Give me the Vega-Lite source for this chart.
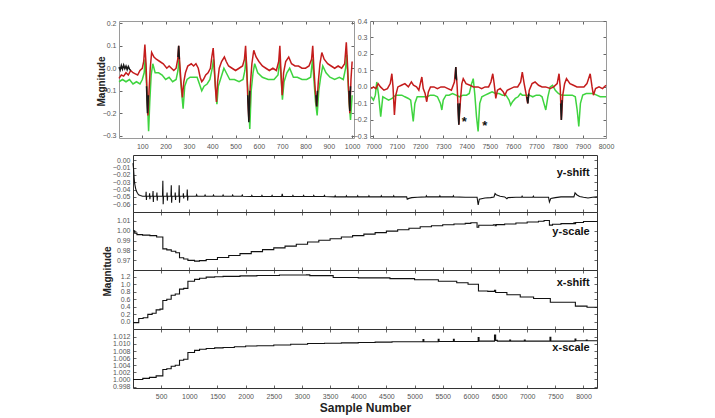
{
"$schema":"https://vega.github.io/schema/vega-lite/v6.json",
"autosize":{"type":"none"},
"padding":{"left":119,"top":21,"right":596,"bottom":397},
"background":"white",
"config":{"font":"Liberation Sans","view":{"stroke":null},
"axis":{"domain":true,"domainColor":"#333","domainWidth":1,"grid":false,"ticks":true,"tickSize":-3,"tickColor":"#666","labelFont":"Liberation Sans","labelFontSize":7,"labelColor":"#555","labelPadding":6,"labelFlush":false,"labelOverlap":false,"labelBound":false,"titleFont":"Liberation Sans","titleFontWeight":"bold","titleColor":"#222","titleFontSize":10},
"axisX":{"labelPadding":7}},
"datasets":{
"tl":[
{"s":"g","q":0,"x":0,"y":-0.06},{"s":"g","q":0,"x":15,"y":-0.05},{"s":"g","q":0,"x":30,"y":-0.06},{"s":"g","q":0,"x":45,"y":-0.05},{"s":"g","q":0,"x":60,"y":-0.07},{"s":"g","q":0,"x":75,"y":-0.06},{"s":"g","q":0,"x":90,"y":-0.07},{"s":"g","q":0,"x":100,"y":-0.05},{"s":"g","q":0,"x":108,"y":-0.02},{"s":"g","q":0,"x":112,"y":0.04},{"s":"g","q":0,"x":117,"y":-0.05},{"s":"g","q":0,"x":122,"y":-0.15},{"s":"g","q":0,"x":127,"y":-0.28},{"s":"g","q":0,"x":132,"y":-0.15},{"s":"g","q":0,"x":138,"y":-0.03},{"s":"g","q":0,"x":145,"y":0.02},{"s":"g","q":0,"x":155,"y":-0.02},{"s":"g","q":0,"x":170,"y":-0.02},{"s":"g","q":0,"x":185,"y":-0.03},{"s":"g","q":0,"x":200,"y":-0.05},{"s":"g","q":0,"x":215,"y":-0.04},{"s":"g","q":0,"x":230,"y":-0.06},{"s":"g","q":0,"x":245,"y":-0.05},{"s":"g","q":0,"x":253,"y":-0.01},{"s":"g","q":0,"x":258,"y":0.05},{"s":"g","q":0,"x":262,"y":-0.03},{"s":"g","q":0,"x":268,"y":-0.1},{"s":"g","q":0,"x":275,"y":-0.18},{"s":"g","q":0,"x":282,"y":-0.08},{"s":"g","q":0,"x":292,"y":-0.05},{"s":"g","q":0,"x":305,"y":-0.04},{"s":"g","q":0,"x":320,"y":-0.04},{"s":"g","q":0,"x":335,"y":-0.04},{"s":"g","q":0,"x":345,"y":-0.07},{"s":"g","q":0,"x":355,"y":-0.1},{"s":"g","q":0,"x":365,"y":-0.08},{"s":"g","q":0,"x":378,"y":-0.07},{"s":"g","q":0,"x":390,"y":-0.05},{"s":"g","q":0,"x":400,"y":0.0},{"s":"g","q":0,"x":405,"y":0.04},{"s":"g","q":0,"x":410,"y":-0.03},{"s":"g","q":0,"x":415,"y":-0.1},{"s":"g","q":0,"x":420,"y":-0.16},{"s":"g","q":0,"x":426,"y":-0.08},{"s":"g","q":0,"x":435,"y":-0.05},{"s":"g","q":0,"x":450,"y":0.0},{"s":"g","q":0,"x":460,"y":-0.02},{"s":"g","q":0,"x":475,"y":-0.05},{"s":"g","q":0,"x":495,"y":-0.05},{"s":"g","q":0,"x":515,"y":-0.06},{"s":"g","q":0,"x":532,"y":-0.05},{"s":"g","q":0,"x":540,"y":-0.01},{"s":"g","q":0,"x":545,"y":0.05},{"s":"g","q":0,"x":550,"y":-0.05},{"s":"g","q":0,"x":556,"y":-0.15},{"s":"g","q":0,"x":561,"y":-0.27},{"s":"g","q":0,"x":567,"y":-0.1},{"s":"g","q":0,"x":575,"y":-0.02},{"s":"g","q":0,"x":582,"y":0.02},{"s":"g","q":0,"x":595,"y":-0.02},{"s":"g","q":0,"x":615,"y":-0.04},{"s":"g","q":0,"x":640,"y":-0.05},{"s":"g","q":0,"x":665,"y":-0.05},{"s":"g","q":0,"x":682,"y":-0.03},{"s":"g","q":0,"x":690,"y":0.04},{"s":"g","q":0,"x":695,"y":-0.04},{"s":"g","q":0,"x":701,"y":-0.14},{"s":"g","q":0,"x":708,"y":-0.06},{"s":"g","q":0,"x":720,"y":-0.02},{"s":"g","q":0,"x":732,"y":0.0},{"s":"g","q":0,"x":748,"y":-0.04},{"s":"g","q":0,"x":765,"y":-0.04},{"s":"g","q":0,"x":785,"y":-0.05},{"s":"g","q":0,"x":805,"y":-0.05},{"s":"g","q":0,"x":822,"y":-0.04},{"s":"g","q":0,"x":830,"y":0.04},{"s":"g","q":0,"x":836,"y":-0.05},{"s":"g","q":0,"x":843,"y":-0.15},{"s":"g","q":0,"x":850,"y":-0.21},{"s":"g","q":0,"x":857,"y":-0.1},{"s":"g","q":0,"x":865,"y":-0.04},{"s":"g","q":0,"x":874,"y":0.01},{"s":"g","q":0,"x":888,"y":-0.02},{"s":"g","q":0,"x":905,"y":-0.04},{"s":"g","q":0,"x":925,"y":-0.05},{"s":"g","q":0,"x":945,"y":-0.04},{"s":"g","q":0,"x":962,"y":-0.05},{"s":"g","q":0,"x":972,"y":0.0},{"s":"g","q":0,"x":977,"y":0.06},{"s":"g","q":0,"x":982,"y":-0.05},{"s":"g","q":0,"x":987,"y":-0.15},{"s":"g","q":0,"x":993,"y":-0.23},{"s":"g","q":0,"x":1000,"y":-0.12},
{"s":"r","q":0,"x":0,"y":-0.045},{"s":"r","q":0,"x":10,"y":-0.03},{"s":"r","q":0,"x":20,"y":-0.035},{"s":"r","q":0,"x":30,"y":-0.02},{"s":"r","q":0,"x":40,"y":-0.03},{"s":"r","q":0,"x":50,"y":-0.01},{"s":"r","q":0,"x":60,"y":-0.02},{"s":"r","q":0,"x":70,"y":-0.025},{"s":"r","q":0,"x":80,"y":-0.03},{"s":"r","q":0,"x":90,"y":-0.01},{"s":"r","q":0,"x":100,"y":0.0},{"s":"r","q":0,"x":106,"y":0.03},{"s":"r","q":0,"x":111,"y":0.105},{"s":"r","q":0,"x":116,"y":0.02},{"s":"r","q":0,"x":120,"y":-0.1},{"s":"r","q":0,"x":124,"y":-0.21},{"s":"r","q":0,"x":129,"y":-0.1},{"s":"r","q":0,"x":134,"y":0.0},{"s":"r","q":0,"x":140,"y":0.07},{"s":"r","q":0,"x":150,"y":0.05},{"s":"r","q":0,"x":160,"y":0.04},{"s":"r","q":0,"x":175,"y":0.03},{"s":"r","q":0,"x":190,"y":0.02},{"s":"r","q":0,"x":205,"y":0.0},{"s":"r","q":0,"x":215,"y":0.01},{"s":"r","q":0,"x":225,"y":0.0},{"s":"r","q":0,"x":235,"y":-0.01},{"s":"r","q":0,"x":245,"y":0.0},{"s":"r","q":0,"x":252,"y":0.04},{"s":"r","q":0,"x":256,"y":0.1},{"s":"r","q":0,"x":260,"y":0.03},{"s":"r","q":0,"x":266,"y":-0.06},{"s":"r","q":0,"x":272,"y":-0.13},{"s":"r","q":0,"x":278,"y":-0.06},{"s":"r","q":0,"x":285,"y":-0.02},{"s":"r","q":0,"x":295,"y":0.01},{"s":"r","q":0,"x":310,"y":0.02},{"s":"r","q":0,"x":320,"y":0.01},{"s":"r","q":0,"x":330,"y":0.02},{"s":"r","q":0,"x":340,"y":0.0},{"s":"r","q":0,"x":348,"y":-0.04},{"s":"r","q":0,"x":355,"y":-0.06},{"s":"r","q":0,"x":362,"y":-0.05},{"s":"r","q":0,"x":372,"y":-0.03},{"s":"r","q":0,"x":382,"y":-0.02},{"s":"r","q":0,"x":392,"y":0.0},{"s":"r","q":0,"x":398,"y":0.05},{"s":"r","q":0,"x":404,"y":0.09},{"s":"r","q":0,"x":408,"y":0.03},{"s":"r","q":0,"x":413,"y":-0.08},{"s":"r","q":0,"x":418,"y":-0.15},{"s":"r","q":0,"x":423,"y":-0.06},{"s":"r","q":0,"x":430,"y":0.0},{"s":"r","q":0,"x":440,"y":0.03},{"s":"r","q":0,"x":452,"y":0.05},{"s":"r","q":0,"x":460,"y":0.03},{"s":"r","q":0,"x":470,"y":0.01},{"s":"r","q":0,"x":485,"y":0.0},{"s":"r","q":0,"x":500,"y":-0.01},{"s":"r","q":0,"x":515,"y":0.0},{"s":"r","q":0,"x":530,"y":0.01},{"s":"r","q":0,"x":538,"y":0.04},{"s":"r","q":0,"x":543,"y":0.1},{"s":"r","q":0,"x":547,"y":0.02},{"s":"r","q":0,"x":552,"y":-0.12},{"s":"r","q":0,"x":557,"y":-0.23},{"s":"r","q":0,"x":563,"y":-0.08},{"s":"r","q":0,"x":570,"y":0.02},{"s":"r","q":0,"x":578,"y":0.08},{"s":"r","q":0,"x":588,"y":0.05},{"s":"r","q":0,"x":600,"y":0.03},{"s":"r","q":0,"x":615,"y":0.01},{"s":"r","q":0,"x":630,"y":0.0},{"s":"r","q":0,"x":645,"y":-0.01},{"s":"r","q":0,"x":660,"y":0.0},{"s":"r","q":0,"x":675,"y":-0.01},{"s":"r","q":0,"x":685,"y":0.03},{"s":"r","q":0,"x":690,"y":0.1},{"s":"r","q":0,"x":694,"y":0.0},{"s":"r","q":0,"x":700,"y":-0.12},{"s":"r","q":0,"x":706,"y":-0.02},{"s":"r","q":0,"x":715,"y":0.03},{"s":"r","q":0,"x":728,"y":0.05},{"s":"r","q":0,"x":740,"y":0.02},{"s":"r","q":0,"x":755,"y":0.01},{"s":"r","q":0,"x":770,"y":0.01},{"s":"r","q":0,"x":785,"y":0.0},{"s":"r","q":0,"x":800,"y":0.0},{"s":"r","q":0,"x":815,"y":0.01},{"s":"r","q":0,"x":826,"y":0.04},{"s":"r","q":0,"x":831,"y":0.1},{"s":"r","q":0,"x":836,"y":0.0},{"s":"r","q":0,"x":842,"y":-0.1},{"s":"r","q":0,"x":848,"y":-0.17},{"s":"r","q":0,"x":855,"y":-0.06},{"s":"r","q":0,"x":862,"y":0.02},{"s":"r","q":0,"x":870,"y":0.07},{"s":"r","q":0,"x":880,"y":0.04},{"s":"r","q":0,"x":895,"y":0.02},{"s":"r","q":0,"x":910,"y":0.01},{"s":"r","q":0,"x":925,"y":0.0},{"s":"r","q":0,"x":940,"y":0.01},{"s":"r","q":0,"x":955,"y":0.0},{"s":"r","q":0,"x":968,"y":0.02},{"s":"r","q":0,"x":975,"y":0.115},{"s":"r","q":0,"x":980,"y":0.02},{"s":"r","q":0,"x":985,"y":-0.1},{"s":"r","q":0,"x":990,"y":-0.2},{"s":"r","q":0,"x":995,"y":-0.05},{"s":"r","q":0,"x":1000,"y":0.03},
{"s":"k","q":1,"x":0,"y":0.005},{"s":"k","q":1,"x":5,"y":-0.008},{"s":"k","q":1,"x":10,"y":0.012},{"s":"k","q":1,"x":15,"y":-0.004},{"s":"k","q":1,"x":20,"y":0.014},{"s":"k","q":1,"x":25,"y":-0.002},{"s":"k","q":1,"x":30,"y":0.01},{"s":"k","q":1,"x":35,"y":-0.006},{"s":"k","q":1,"x":40,"y":0.008},{"s":"k","q":1,"x":45,"y":-0.004},{"s":"k","q":1,"x":50,"y":-0.01},
{"s":"k","q":2,"x":118,"y":-0.08},{"s":"k","q":2,"x":122,"y":-0.2},{"s":"k","q":2,"x":126,"y":-0.12},
{"s":"k","q":3,"x":253,"y":0.05},{"s":"k","q":3,"x":256,"y":0.1},{"s":"k","q":3,"x":259,"y":0.04},
{"s":"k","q":4,"x":552,"y":-0.12},{"s":"k","q":4,"x":557,"y":-0.24},{"s":"k","q":4,"x":561,"y":-0.1},
{"s":"k","q":5,"x":845,"y":-0.12},{"s":"k","q":5,"x":848,"y":-0.17},{"s":"k","q":5,"x":851,"y":-0.1},
{"s":"k","q":6,"x":987,"y":-0.1},{"s":"k","q":6,"x":990,"y":-0.19},{"s":"k","q":6,"x":993,"y":-0.08}
],
"tr":[
{"s":"g","q":0,"x":6990,"y":-0.06},{"s":"g","q":0,"x":7000,"y":-0.08},{"s":"g","q":0,"x":7008,"y":-0.05},{"s":"g","q":0,"x":7014,"y":0.03},{"s":"g","q":0,"x":7022,"y":-0.05},{"s":"g","q":0,"x":7031,"y":-0.18},{"s":"g","q":0,"x":7040,"y":-0.06},{"s":"g","q":0,"x":7052,"y":-0.07},{"s":"g","q":0,"x":7065,"y":-0.08},{"s":"g","q":0,"x":7080,"y":-0.07},{"s":"g","q":0,"x":7095,"y":-0.05},{"s":"g","q":0,"x":7110,"y":-0.05},{"s":"g","q":0,"x":7122,"y":-0.05},{"s":"g","q":0,"x":7135,"y":-0.06},{"s":"g","q":0,"x":7150,"y":-0.07},{"s":"g","q":0,"x":7160,"y":-0.08},{"s":"g","q":0,"x":7166,"y":-0.15},{"s":"g","q":0,"x":7171,"y":-0.21},{"s":"g","q":0,"x":7178,"y":-0.1},{"s":"g","q":0,"x":7188,"y":-0.06},{"s":"g","q":0,"x":7200,"y":-0.06},{"s":"g","q":0,"x":7215,"y":-0.06},{"s":"g","q":0,"x":7230,"y":-0.06},{"s":"g","q":0,"x":7245,"y":-0.05},{"s":"g","q":0,"x":7260,"y":-0.05},{"s":"g","q":0,"x":7275,"y":-0.06},{"s":"g","q":0,"x":7288,"y":-0.1},{"s":"g","q":0,"x":7294,"y":-0.14},{"s":"g","q":0,"x":7300,"y":-0.08},{"s":"g","q":0,"x":7312,"y":-0.05},{"s":"g","q":0,"x":7325,"y":-0.05},{"s":"g","q":0,"x":7340,"y":-0.04},{"s":"g","q":0,"x":7355,"y":-0.05},{"s":"g","q":0,"x":7370,"y":-0.06},{"s":"g","q":0,"x":7385,"y":-0.05},{"s":"g","q":0,"x":7400,"y":-0.05},{"s":"g","q":0,"x":7412,"y":-0.04},{"s":"g","q":0,"x":7422,"y":0.02},{"s":"g","q":0,"x":7429,"y":0.05},{"s":"g","q":0,"x":7436,"y":-0.05},{"s":"g","q":0,"x":7443,"y":-0.18},{"s":"g","q":0,"x":7450,"y":-0.27},{"s":"g","q":0,"x":7457,"y":-0.1},{"s":"g","q":0,"x":7466,"y":-0.06},{"s":"g","q":0,"x":7480,"y":-0.05},{"s":"g","q":0,"x":7495,"y":-0.04},{"s":"g","q":0,"x":7510,"y":-0.03},{"s":"g","q":0,"x":7525,"y":-0.04},{"s":"g","q":0,"x":7540,"y":-0.04},{"s":"g","q":0,"x":7555,"y":-0.05},{"s":"g","q":0,"x":7570,"y":-0.05},{"s":"g","q":0,"x":7583,"y":-0.08},{"s":"g","q":0,"x":7590,"y":-0.11},{"s":"g","q":0,"x":7598,"y":-0.09},{"s":"g","q":0,"x":7610,"y":-0.07},{"s":"g","q":0,"x":7622,"y":-0.06},{"s":"g","q":0,"x":7632,"y":-0.04},{"s":"g","q":0,"x":7640,"y":-0.05},{"s":"g","q":0,"x":7655,"y":-0.05},{"s":"g","q":0,"x":7670,"y":-0.05},{"s":"g","q":0,"x":7685,"y":-0.06},{"s":"g","q":0,"x":7700,"y":-0.05},{"s":"g","q":0,"x":7715,"y":-0.05},{"s":"g","q":0,"x":7725,"y":-0.06},{"s":"g","q":0,"x":7733,"y":-0.1},{"s":"g","q":0,"x":7741,"y":-0.14},{"s":"g","q":0,"x":7750,"y":-0.06},{"s":"g","q":0,"x":7760,"y":0.0},{"s":"g","q":0,"x":7770,"y":0.01},{"s":"g","q":0,"x":7782,"y":-0.02},{"s":"g","q":0,"x":7795,"y":-0.04},{"s":"g","q":0,"x":7810,"y":-0.05},{"s":"g","q":0,"x":7825,"y":-0.05},{"s":"g","q":0,"x":7840,"y":-0.05},{"s":"g","q":0,"x":7855,"y":-0.05},{"s":"g","q":0,"x":7868,"y":-0.06},{"s":"g","q":0,"x":7876,"y":-0.14},{"s":"g","q":0,"x":7883,"y":-0.24},{"s":"g","q":0,"x":7890,"y":-0.1},{"s":"g","q":0,"x":7900,"y":-0.05},{"s":"g","q":0,"x":7915,"y":-0.04},{"s":"g","q":0,"x":7930,"y":-0.04},{"s":"g","q":0,"x":7945,"y":-0.04},{"s":"g","q":0,"x":7960,"y":-0.05},{"s":"g","q":0,"x":7975,"y":-0.06},{"s":"g","q":0,"x":7990,"y":-0.06},{"s":"g","q":0,"x":8000,"y":-0.06},
{"s":"r","q":0,"x":6990,"y":-0.01},{"s":"r","q":0,"x":7000,"y":0.0},{"s":"r","q":0,"x":7010,"y":-0.01},{"s":"r","q":0,"x":7020,"y":0.02},{"s":"r","q":0,"x":7030,"y":0.0},{"s":"r","q":0,"x":7045,"y":-0.02},{"s":"r","q":0,"x":7060,"y":-0.01},{"s":"r","q":0,"x":7072,"y":0.02},{"s":"r","q":0,"x":7079,"y":0.08},{"s":"r","q":0,"x":7084,"y":0.0},{"s":"r","q":0,"x":7090,"y":-0.17},{"s":"r","q":0,"x":7096,"y":-0.05},{"s":"r","q":0,"x":7105,"y":0.0},{"s":"r","q":0,"x":7120,"y":0.01},{"s":"r","q":0,"x":7135,"y":0.02},{"s":"r","q":0,"x":7150,"y":0.0},{"s":"r","q":0,"x":7163,"y":0.03},{"s":"r","q":0,"x":7172,"y":0.01},{"s":"r","q":0,"x":7185,"y":0.0},{"s":"r","q":0,"x":7195,"y":-0.02},{"s":"r","q":0,"x":7203,"y":0.03},{"s":"r","q":0,"x":7208,"y":0.06},{"s":"r","q":0,"x":7214,"y":-0.01},{"s":"r","q":0,"x":7222,"y":-0.04},{"s":"r","q":0,"x":7229,"y":-0.09},{"s":"r","q":0,"x":7236,"y":-0.03},{"s":"r","q":0,"x":7245,"y":0.0},{"s":"r","q":0,"x":7260,"y":0.0},{"s":"r","q":0,"x":7275,"y":-0.01},{"s":"r","q":0,"x":7290,"y":0.0},{"s":"r","q":0,"x":7305,"y":0.0},{"s":"r","q":0,"x":7320,"y":-0.01},{"s":"r","q":0,"x":7335,"y":-0.02},{"s":"r","q":0,"x":7348,"y":0.03},{"s":"r","q":0,"x":7354,"y":0.12},{"s":"r","q":0,"x":7360,"y":0.0},{"s":"r","q":0,"x":7367,"y":-0.23},{"s":"r","q":0,"x":7374,"y":-0.08},{"s":"r","q":0,"x":7380,"y":0.02},{"s":"r","q":0,"x":7386,"y":0.05},{"s":"r","q":0,"x":7398,"y":0.02},{"s":"r","q":0,"x":7415,"y":0.01},{"s":"r","q":0,"x":7430,"y":0.0},{"s":"r","q":0,"x":7450,"y":0.0},{"s":"r","q":0,"x":7465,"y":-0.01},{"s":"r","q":0,"x":7480,"y":0.0},{"s":"r","q":0,"x":7495,"y":0.0},{"s":"r","q":0,"x":7505,"y":0.03},{"s":"r","q":0,"x":7513,"y":0.08},{"s":"r","q":0,"x":7519,"y":0.02},{"s":"r","q":0,"x":7526,"y":-0.07},{"s":"r","q":0,"x":7533,"y":-0.02},{"s":"r","q":0,"x":7545,"y":-0.01},{"s":"r","q":0,"x":7558,"y":-0.03},{"s":"r","q":0,"x":7565,"y":-0.05},{"s":"r","q":0,"x":7575,"y":-0.02},{"s":"r","q":0,"x":7590,"y":-0.01},{"s":"r","q":0,"x":7605,"y":0.0},{"s":"r","q":0,"x":7620,"y":0.0},{"s":"r","q":0,"x":7633,"y":0.03},{"s":"r","q":0,"x":7640,"y":0.09},{"s":"r","q":0,"x":7648,"y":0.02},{"s":"r","q":0,"x":7656,"y":-0.04},{"s":"r","q":0,"x":7663,"y":-0.1},{"s":"r","q":0,"x":7670,"y":-0.02},{"s":"r","q":0,"x":7682,"y":0.02},{"s":"r","q":0,"x":7695,"y":0.03},{"s":"r","q":0,"x":7710,"y":0.01},{"s":"r","q":0,"x":7725,"y":0.0},{"s":"r","q":0,"x":7740,"y":0.0},{"s":"r","q":0,"x":7760,"y":-0.01},{"s":"r","q":0,"x":7775,"y":0.0},{"s":"r","q":0,"x":7790,"y":0.02},{"s":"r","q":0,"x":7798,"y":0.08},{"s":"r","q":0,"x":7803,"y":0.0},{"s":"r","q":0,"x":7808,"y":-0.2},{"s":"r","q":0,"x":7814,"y":-0.05},{"s":"r","q":0,"x":7822,"y":0.02},{"s":"r","q":0,"x":7830,"y":0.05},{"s":"r","q":0,"x":7845,"y":0.02},{"s":"r","q":0,"x":7860,"y":0.01},{"s":"r","q":0,"x":7875,"y":0.0},{"s":"r","q":0,"x":7890,"y":0.0},{"s":"r","q":0,"x":7905,"y":0.0},{"s":"r","q":0,"x":7918,"y":0.02},{"s":"r","q":0,"x":7932,"y":0.08},{"s":"r","q":0,"x":7940,"y":0.0},{"s":"r","q":0,"x":7946,"y":-0.05},{"s":"r","q":0,"x":7955,"y":-0.01},{"s":"r","q":0,"x":7970,"y":0.0},{"s":"r","q":0,"x":7985,"y":-0.01},{"s":"r","q":0,"x":8000,"y":0.01},
{"s":"k","q":1,"x":7352,"y":0.05},{"s":"k","q":1,"x":7354,"y":0.12},{"s":"k","q":1,"x":7357,"y":0.04},
{"s":"k","q":2,"x":7363,"y":-0.1},{"s":"k","q":2,"x":7367,"y":-0.23},{"s":"k","q":2,"x":7371,"y":-0.1},
{"s":"k","q":3,"x":7660,"y":-0.06},{"s":"k","q":3,"x":7664,"y":-0.1},{"s":"k","q":3,"x":7668,"y":-0.04},
{"s":"k","q":4,"x":7805,"y":-0.1},{"s":"k","q":4,"x":7808,"y":-0.2},{"s":"k","q":4,"x":7811,"y":-0.08}
],
"ys":[
{"x":0,"y":-0.004},{"x":10,"y":-0.012},{"x":20,"y":-0.024},{"x":30,"y":-0.032},{"x":45,"y":-0.038},{"x":60,"y":-0.042},{"x":80,"y":-0.045},{"x":100,"y":-0.047},{"x":130,"y":-0.048},{"x":170,"y":-0.049},{"x":228,"y":-0.049},{"x":233,"y":-0.043},{"x":238,"y":-0.054},{"x":243,"y":-0.049},{"x":290,"y":-0.049},{"x":295,"y":-0.045},{"x":300,"y":-0.053},{"x":305,"y":-0.049},{"x":350,"y":-0.049},{"x":356,"y":-0.042},{"x":361,"y":-0.057},{"x":366,"y":-0.049},{"x":420,"y":-0.049},{"x":425,"y":-0.044},{"x":430,"y":-0.055},{"x":435,"y":-0.049},{"x":524,"y":-0.049},{"x":530,"y":-0.028},{"x":536,"y":-0.06},{"x":542,"y":-0.049},{"x":600,"y":-0.049},{"x":605,"y":-0.044},{"x":610,"y":-0.055},{"x":615,"y":-0.049},{"x":674,"y":-0.049},{"x":680,"y":-0.034},{"x":686,"y":-0.058},{"x":692,"y":-0.049},{"x":745,"y":-0.049},{"x":750,"y":-0.044},{"x":755,"y":-0.054},{"x":760,"y":-0.049},{"x":814,"y":-0.049},{"x":820,"y":-0.034},{"x":826,"y":-0.058},{"x":832,"y":-0.049},{"x":890,"y":-0.049},{"x":895,"y":-0.045},{"x":900,"y":-0.052},{"x":905,"y":-0.049},{"x":958,"y":-0.049},{"x":964,"y":-0.04},{"x":970,"y":-0.055},{"x":976,"y":-0.049},
{"x":1120,"y":-0.049},{"x":1130,"y":-0.047},{"x":1140,"y":-0.049},{"x":1270,"y":-0.049},{"x":1280,"y":-0.0475},{"x":1290,"y":-0.049},{"x":1420,"y":-0.049},{"x":1430,"y":-0.0475},{"x":1440,"y":-0.049},{"x":1590,"y":-0.049},{"x":1600,"y":-0.0475},{"x":1610,"y":-0.049},{"x":1760,"y":-0.049},{"x":1770,"y":-0.0475},{"x":1780,"y":-0.049},{"x":1930,"y":-0.049},{"x":1940,"y":-0.0475},{"x":1950,"y":-0.049},{"x":2100,"y":-0.0495},{"x":2110,"y":-0.048},{"x":2120,"y":-0.0495},{"x":2280,"y":-0.0495},{"x":2290,"y":-0.048},{"x":2300,"y":-0.0495},{"x":2460,"y":-0.0495},{"x":2470,"y":-0.048},{"x":2480,"y":-0.0495},{"x":2640,"y":-0.0495},{"x":2650,"y":-0.046},{"x":2660,"y":-0.0495},{"x":2830,"y":-0.0495},{"x":2840,"y":-0.048},{"x":2850,"y":-0.0495},{"x":3020,"y":-0.0495},{"x":3030,"y":-0.048},{"x":3040,"y":-0.0495},{"x":3200,"y":-0.0495},{"x":3210,"y":-0.048},{"x":3220,"y":-0.0495},{"x":3390,"y":-0.0495},{"x":3400,"y":-0.048},{"x":3410,"y":-0.0495},{"x":3580,"y":-0.05},{"x":3590,"y":-0.0485},{"x":3600,"y":-0.05},{"x":3780,"y":-0.05},{"x":3790,"y":-0.0485},{"x":3800,"y":-0.05},{"x":3980,"y":-0.05},{"x":3990,"y":-0.0485},{"x":4000,"y":-0.05},{"x":4180,"y":-0.05},{"x":4190,"y":-0.0485},{"x":4200,"y":-0.05},{"x":4400,"y":-0.05},{"x":4410,"y":-0.0485},{"x":4420,"y":-0.05},{"x":4620,"y":-0.05},{"x":4630,"y":-0.0485},{"x":4640,"y":-0.05},{"x":4860,"y":-0.05},{"x":4870,"y":-0.053},{"x":4900,"y":-0.052},{"x":4950,"y":-0.051},{"x":5050,"y":-0.0505},{"x":5200,"y":-0.05},{"x":5210,"y":-0.0485},{"x":5220,"y":-0.05},{"x":5440,"y":-0.05},{"x":5450,"y":-0.0485},{"x":5460,"y":-0.05},{"x":5680,"y":-0.05},{"x":5690,"y":-0.0485},{"x":5700,"y":-0.05},{"x":5900,"y":-0.0505},{"x":6110,"y":-0.0505},{"x":6130,"y":-0.061},{"x":6150,"y":-0.053},{"x":6250,"y":-0.0515},{"x":6350,"y":-0.051},{"x":6410,"y":-0.05},{"x":6430,"y":-0.0455},{"x":6450,"y":-0.047},{"x":6520,"y":-0.049},{"x":6600,"y":-0.05},{"x":6640,"y":-0.0525},{"x":6660,"y":-0.051},{"x":6800,"y":-0.0505},{"x":6900,"y":-0.0505},{"x":6910,"y":-0.049},{"x":6920,"y":-0.0505},{"x":7100,"y":-0.0505},{"x":7110,"y":-0.049},{"x":7120,"y":-0.0505},{"x":7380,"y":-0.0505},{"x":7395,"y":-0.057},{"x":7420,"y":-0.052},{"x":7500,"y":-0.051},{"x":7600,"y":-0.05},{"x":7700,"y":-0.05},{"x":7830,"y":-0.05},{"x":7850,"y":-0.0445},{"x":7880,"y":-0.047},{"x":7930,"y":-0.0495},{"x":8000,"y":-0.0505},{"x":8080,"y":-0.0515},{"x":8160,"y":-0.0505},{"x":8240,"y":-0.05}
],
"ysc":[
{"x":0,"y":1.0},{"x":30,"y":0.9975},{"x":70,"y":0.996},{"x":170,"y":0.9955},{"x":300,"y":0.995},{"x":420,"y":0.9935},{"x":530,"y":0.9815},{"x":600,"y":0.9805},{"x":680,"y":0.979},{"x":760,"y":0.9775},{"x":826,"y":0.9725},{"x":900,"y":0.9712},{"x":975,"y":0.9698},{"x":1093,"y":0.969},{"x":1180,"y":0.9695},{"x":1300,"y":0.9707},{"x":1500,"y":0.9727},{"x":1700,"y":0.9747},{"x":1900,"y":0.9767},{"x":2100,"y":0.9787},{"x":2300,"y":0.9807},{"x":2500,"y":0.9825},{"x":2700,"y":0.9843},{"x":2900,"y":0.9862},{"x":3100,"y":0.9885},{"x":3300,"y":0.9902},{"x":3500,"y":0.9918},{"x":3700,"y":0.9935},{"x":3900,"y":0.995},{"x":4100,"y":0.9965},{"x":4300,"y":0.998},{"x":4500,"y":0.9995},{"x":4700,"y":1.001},{"x":4900,"y":1.0025},{"x":5100,"y":1.004},{"x":5300,"y":1.005},{"x":5500,"y":1.006},{"x":5700,"y":1.0068},{"x":5900,"y":1.0074},{"x":6000,"y":1.008},{"x":6110,"y":1.0035},{"x":6140,"y":1.0055},{"x":6400,"y":1.006},{"x":6430,"y":1.005},{"x":6450,"y":1.0062},{"x":6600,"y":1.0068},{"x":6800,"y":1.0078},{"x":7000,"y":1.0088},{"x":7200,"y":1.0096},{"x":7300,"y":1.0103},{"x":7395,"y":1.0057},{"x":7450,"y":1.0065},{"x":7600,"y":1.0072},{"x":7830,"y":1.008},{"x":7845,"y":1.0072},{"x":7860,"y":1.0083},{"x":8000,"y":1.0093},{"x":8240,"y":1.0097}
],
"xs":[
{"x":0,"y":-0.02},{"x":102,"y":0.09},{"x":180,"y":0.11},{"x":263,"y":0.2},{"x":340,"y":0.23},{"x":411,"y":0.32},{"x":480,"y":0.34},{"x":530,"y":0.57},{"x":600,"y":0.6},{"x":678,"y":0.71},{"x":750,"y":0.74},{"x":826,"y":0.87},{"x":900,"y":0.89},{"x":975,"y":1.08},{"x":1093,"y":1.13},{"x":1182,"y":1.16},{"x":1300,"y":1.19},{"x":1450,"y":1.2},{"x":1600,"y":1.21},{"x":1900,"y":1.225},{"x":2200,"y":1.235},{"x":2600,"y":1.245},{"x":3080,"y":1.25},{"x":3140,"y":1.23},{"x":3555,"y":1.18},{"x":4000,"y":1.17},{"x":4563,"y":1.15},{"x":5000,"y":1.12},{"x":5423,"y":1.08},{"x":5749,"y":1.04},{"x":5950,"y":1.0},{"x":6135,"y":0.82},{"x":6300,"y":0.81},{"x":6420,"y":0.84},{"x":6440,"y":0.78},{"x":6640,"y":0.72},{"x":6877,"y":0.66},{"x":7114,"y":0.62},{"x":7411,"y":0.52},{"x":7856,"y":0.42},{"x":8063,"y":0.39},{"x":8240,"y":0.38}
],
"xsc":[
{"x":0,"y":1.0},{"x":174,"y":1.0003},{"x":292,"y":1.0006},{"x":411,"y":1.001},{"x":530,"y":1.0028},{"x":600,"y":1.003},{"x":678,"y":1.0037},{"x":750,"y":1.004},{"x":826,"y":1.0054},{"x":900,"y":1.0057},{"x":975,"y":1.0076},{"x":1093,"y":1.0082},{"x":1182,"y":1.0085},{"x":1300,"y":1.0087},{"x":1450,"y":1.0089},{"x":1600,"y":1.009},{"x":1800,"y":1.0092},{"x":2000,"y":1.0094},{"x":2200,"y":1.0095},{"x":2500,"y":1.0097},{"x":2800,"y":1.0099},{"x":3100,"y":1.0101},{"x":3400,"y":1.0102},{"x":3700,"y":1.0103},{"x":4000,"y":1.0104},{"x":4300,"y":1.0105},{"x":4600,"y":1.0106},{"x":5150,"y":1.0112},{"x":5165,"y":1.0106},{"x":5420,"y":1.0113},{"x":5435,"y":1.0107},{"x":5690,"y":1.0113},{"x":5705,"y":1.0107},{"x":6130,"y":1.0118},{"x":6145,"y":1.0108},{"x":6420,"y":1.0125},{"x":6440,"y":1.011},{"x":6470,"y":1.0108},{"x":6690,"y":1.0111},{"x":6705,"y":1.0108},{"x":6950,"y":1.0111},{"x":6965,"y":1.0108},{"x":7405,"y":1.0119},{"x":7420,"y":1.0108},{"x":7850,"y":1.0114},{"x":7865,"y":1.0109},{"x":8050,"y":1.0111},{"x":8065,"y":1.0109},{"x":8240,"y":1.0109}
]
},
"bounds":"flush",
"spacing":0,
"vconcat":[
 {"width":487,"height":134,
  "layer":[
   {"data":{"name":"tl"},"mark":{"type":"line","strokeWidth":1.5},
    "encoding":{
     "x":{"field":"x","type":"quantitative","scale":{"domain":[0,1008],"range":[0,235]},"axis":{"values":[100,200,300,400,500,600,700,800,900,1000],"format":"d","title":null,"offset":-17,"domainColor":"#9a9a9a"}},
     "y":{"field":"y","type":"quantitative","scale":{"domain":[-0.31,0.21],"range":[117,0]},"axis":{"values":[-0.3,-0.2,-0.1,0,0.1,0.2],"format":".1f","title":"Magnitude","titleX":-18,"titleY":60,"titleBaseline":"middle","domainColor":"#9a9a9a"}},
     "color":{"field":"s","type":"nominal","scale":{"domain":["g","r","k"],"range":["#3fd43f","#c41c1c","#1a1a1a"]},"legend":null},
     "detail":{"field":"q","type":"nominal"}}},
   {"data":{"name":"tl"},"mark":{"type":"point","opacity":0},
    "encoding":{
     "x":{"field":"x","type":"quantitative","scale":{"domain":[0,1008],"range":[0,235]},"axis":{"orient":"top","labels":false,"values":[100,200,300,400,500,600,700,800,900,1000],"title":null,"domainColor":"#9a9a9a"}},
     "y":{"field":"y","type":"quantitative","scale":{"domain":[-0.31,0.21],"range":[117,0]},"axis":{"orient":"right","labels":false,"values":[-0.3,-0.2,-0.1,0,0.1,0.2],"title":null,"offset":-252,"domainColor":"#9a9a9a"}}}},
   {"data":{"name":"tr"},"mark":{"type":"line","strokeWidth":1.5},
    "encoding":{
     "x":{"field":"x","type":"quantitative","scale":{"domain":[6985,8000],"range":[251,487]},"axis":{"orient":"bottom","values":[7000,7100,7200,7300,7400,7500,7600,7700,7800,7900,8000],"format":"d","title":null,"offset":-17,"domainColor":"#9a9a9a"}},
     "y":{"field":"y","type":"quantitative","scale":{"domain":[-0.31,0.4],"range":[117,0]},"axis":{"orient":"left","values":[-0.3,-0.2,-0.1,0,0.1,0.2,0.3,0.4],"format":".1f","title":null,"offset":-251,"domainColor":"#9a9a9a"}},
     "color":{"field":"s","type":"nominal","scale":{"domain":["g","r","k"],"range":["#3fd43f","#c41c1c","#1a1a1a"]},"legend":null},
     "detail":{"field":"q","type":"nominal"}}},
   {"data":{"values":[{"x":7390,"y":-0.195,"t":"*"},{"x":7479,"y":-0.22,"t":"*"}]},
    "mark":{"type":"text","fontSize":13,"fontWeight":"bold","color":"#111","baseline":"middle","dy":3},
    "encoding":{
     "x":{"field":"x","type":"quantitative","scale":{"domain":[6985,8000],"range":[251,487]},"axis":{"orient":"top","labels":false,"values":[7000,7100,7200,7300,7400,7500,7600,7700,7800,7900,8000],"title":null,"domainColor":"#9a9a9a"}},
     "y":{"field":"y","type":"quantitative","scale":{"domain":[-0.31,0.4],"range":[117,0]},"axis":{"orient":"right","labels":false,"values":[-0.3,-0.2,-0.1,0,0.1,0.2,0.3,0.4],"title":null,"domainColor":"#9a9a9a"}},
     "text":{"field":"t"}}}
  ],
  "resolve":{"scale":{"x":"independent","y":"independent","color":"shared"},"axis":{"x":"independent","y":"independent"}}},
 {"width":478,"height":57,
  "layer":[
   {"data":{"name":"ys"},"mark":{"type":"line","color":"#111","strokeWidth":1.1},
    "encoding":{
     "x":{"field":"x","type":"quantitative","scale":{"domain":[0,8240],"range":[14,478]},"axis":{"values":[500,1000,1500,2000,2500,3000,3500,4000,4500,5000,5500,6000,6500,7000,7500,8000],"labels":false,"title":null}},
     "y":{"field":"y","type":"quantitative","scale":{"domain":[-0.0705,0.007]},"axis":{"values":[-0.06,-0.05,-0.04,-0.03,-0.02,-0.01,0],"format":".2f","title":null,"offset":-14}}}},
   {"data":{"values":[{"x":8110,"y":-0.0176,"t":"y-shift"}]},
    "mark":{"type":"text","align":"right","baseline":"middle","fontWeight":"bold","fontSize":11,"color":"#111"},
    "encoding":{
     "x":{"field":"x","type":"quantitative","scale":{"domain":[0,8240],"range":[14,478]},"axis":{"orient":"top","labels":false,"values":[500,1000,1500,2000,2500,3000,3500,4000,4500,5000,5500,6000,6500,7000,7500,8000],"title":null}},
     "y":{"field":"y","type":"quantitative","scale":{"domain":[-0.0705,0.007]},"axis":{"orient":"right","labels":false,"values":[-0.06,-0.05,-0.04,-0.03,-0.02,-0.01,0],"title":null}},
     "text":{"field":"t"}}}
  ],
  "resolve":{"axis":{"x":"independent","y":"independent"}}},
 {"width":478,"height":58,
  "layer":[
   {"data":{"name":"ysc"},"mark":{"type":"line","color":"#111","strokeWidth":1.1,"interpolate":"step-after"},
    "encoding":{
     "x":{"field":"x","type":"quantitative","scale":{"domain":[0,8240],"range":[14,478]},"axis":{"values":[500,1000,1500,2000,2500,3000,3500,4000,4500,5000,5500,6000,6500,7000,7500,8000],"labels":false,"title":null}},
     "y":{"field":"y","type":"quantitative","scale":{"domain":[0.96,1.019]},"axis":{"values":[0.97,0.98,0.99,1.0,1.01],"format":".2f","title":null,"offset":-14}}}},
   {"data":{"values":[{"x":8110,"y":0.9987,"t":"y-scale"}]},
    "mark":{"type":"text","align":"right","baseline":"middle","fontWeight":"bold","fontSize":11,"color":"#111"},
    "encoding":{
     "x":{"field":"x","type":"quantitative","scale":{"domain":[0,8240],"range":[14,478]},"axis":{"orient":"top","labels":false,"values":[500,1000,1500,2000,2500,3000,3500,4000,4500,5000,5500,6000,6500,7000,7500,8000],"title":null}},
     "y":{"field":"y","type":"quantitative","scale":{"domain":[0.96,1.019]},"axis":{"orient":"right","labels":false,"values":[0.97,0.98,0.99,1.0,1.01],"title":null}},
     "text":{"field":"t"}}}
  ],
  "resolve":{"axis":{"x":"independent","y":"independent"}}},
 {"width":478,"height":59,
  "layer":[
   {"data":{"name":"xs"},"mark":{"type":"line","color":"#111","strokeWidth":1.1,"interpolate":"step-after"},
    "encoding":{
     "x":{"field":"x","type":"quantitative","scale":{"domain":[0,8240],"range":[14,478]},"axis":{"values":[500,1000,1500,2000,2500,3000,3500,4000,4500,5000,5500,6000,6500,7000,7500,8000],"labels":false,"title":null}},
     "y":{"field":"y","type":"quantitative","scale":{"domain":[-0.19,1.38]},"axis":{"values":[0,0.2,0.4,0.6,0.8,1.0,1.2],"format":".1f","title":"Magnitude","titleX":-26,"titleY":1,"titleBaseline":"middle","offset":-14}}}},
   {"data":{"values":[{"x":8110,"y":1.034,"t":"x-shift"}]},
    "mark":{"type":"text","align":"right","baseline":"middle","fontWeight":"bold","fontSize":11,"color":"#111"},
    "encoding":{
     "x":{"field":"x","type":"quantitative","scale":{"domain":[0,8240],"range":[14,478]},"axis":{"orient":"top","labels":false,"values":[500,1000,1500,2000,2500,3000,3500,4000,4500,5000,5500,6000,6500,7000,7500,8000],"title":null}},
     "y":{"field":"y","type":"quantitative","scale":{"domain":[-0.19,1.38]},"axis":{"orient":"right","labels":false,"values":[0,0.2,0.4,0.6,0.8,1.0,1.2],"title":null}},
     "text":{"field":"t"}}}
  ],
  "resolve":{"axis":{"x":"independent","y":"independent"}}},
 {"width":478,"height":59,
  "layer":[
   {"data":{"name":"xsc"},"mark":{"type":"line","color":"#111","strokeWidth":1.1,"interpolate":"step-after"},
    "encoding":{
     "x":{"field":"x","type":"quantitative","scale":{"domain":[0,8240],"range":[14,478]},"axis":{"values":[500,1000,1500,2000,2500,3000,3500,4000,4500,5000,5500,6000,6500,7000,7500,8000],"format":"d","title":"Sample Number","titleFontSize":12,"titleY":19.5,"titleBaseline":"middle"}},
     "y":{"field":"y","type":"quantitative","scale":{"domain":[0.9976,1.0142]},"axis":{"values":[0.998,1.0,1.002,1.004,1.006,1.008,1.01,1.012],"format":".3f","title":null,"offset":-14}}}},
   {"data":{"values":[{"x":8110,"y":1.0089,"t":"x-scale"}]},
    "mark":{"type":"text","align":"right","baseline":"middle","fontWeight":"bold","fontSize":11,"color":"#111"},
    "encoding":{
     "x":{"field":"x","type":"quantitative","scale":{"domain":[0,8240],"range":[14,478]},"axis":{"orient":"top","labels":false,"values":[500,1000,1500,2000,2500,3000,3500,4000,4500,5000,5500,6000,6500,7000,7500,8000],"title":null}},
     "y":{"field":"y","type":"quantitative","scale":{"domain":[0.9976,1.0142]},"axis":{"orient":"right","labels":false,"values":[0.998,1.0,1.002,1.004,1.006,1.008,1.01,1.012],"title":null}},
     "text":{"field":"t"}}}
  ],
  "resolve":{"axis":{"x":"independent","y":"independent"}}}
]
}
